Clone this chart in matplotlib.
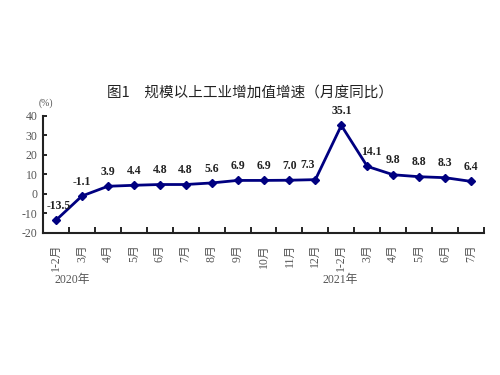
"""Monthly YoY growth of industrial value added, line chart."""

import matplotlib

matplotlib.use("Agg")
import matplotlib.pyplot as plt  # noqa: E402

CJK = ["Noto Sans CJK SC", "DejaVu Sans"]
SERIF = ["Liberation Serif", "Noto Sans CJK SC"]

months = ["1-2月", "3月", "4月", "5月", "6月", "7月", "8月", "9月", "10月",
          "11月", "12月", "1-2月", "3月", "4月", "5月", "6月", "7月"]
growth = [-13.5, -1.1, 3.9, 4.4, 4.8, 4.8, 5.6, 6.9, 6.9, 7.0, 7.3,
          35.1, 14.1, 9.8, 8.8, 8.3, 6.4]
years = ["2020年", "2021年"]
year_start = [0, 11]
y_ticks = [-20, -10, 0, 10, 20, 30, 40]

color = "#000080"

fig = plt.figure(figsize=(5, 3.75), dpi=100)
ax = fig.add_axes([0.086, 0.379, 0.882, 0.312])

x = list(range(len(growth)))
ax.plot(x, growth, color=color, lw=2, marker="D", ms=4.5, zorder=3)

# nudge a few labels sideways as in the source
shift = {0: 0.1, 10: -0.3, 12: 0.15}
for i, v in enumerate(growth):
    ax.annotate(f"{v:.1f}", (i + shift.get(i, 0), v), xytext=(0, 6),
                textcoords="offset points", ha="center", va="bottom",
                fontsize=8.5, fontweight="bold", family=SERIF, color="#222222")

ax.set_xlim(-0.5, len(growth) - 0.5)
ax.set_ylim(-20, 40)
ax.set_yticks(y_ticks)
ax.set_yticklabels([str(t) for t in y_ticks], family=SERIF, fontsize=8.5,
                   color="#555555")
ax.set_xticks([i + 0.5 for i in range(-1, len(growth))])
ax.set_xticklabels([])
ax.set_xticks(x, minor=True)
ax.set_xticklabels(months, minor=True, rotation=90, family=SERIF, fontsize=8.5,
                   color="#555555", va="top", ha="center")
ax.tick_params(axis="x", which="major", direction="in", length=4, width=1.2)
ax.tick_params(axis="x", which="minor", length=0, pad=8)
ax.tick_params(axis="y", direction="in", length=3, width=1.2, pad=4)
for side in ("top", "right"):
    ax.spines[side].set_visible(False)
for side in ("left", "bottom"):
    ax.spines[side].set_linewidth(1.5)
    ax.spines[side].set_color("#222222")

for name, start in zip(years, year_start):
    ax.annotate(name, (start - 0.05, 0.253), xycoords=("data", "figure fraction"),
                ha="left" if start == 0 else "center", va="center",
                fontsize=8.5, family=SERIF, color="#555555")

fig.text(0.092, 0.725, "(%)", fontsize=7, family=SERIF, color="#555555",
         ha="center", va="center")
fig.text(0.5, 0.752, "图1　规模以上工业增加值增速（月度同比）", fontsize=10.5,
         family=CJK, ha="center", va="center", color="#222222")

fig.savefig("out.png", dpi=100)
